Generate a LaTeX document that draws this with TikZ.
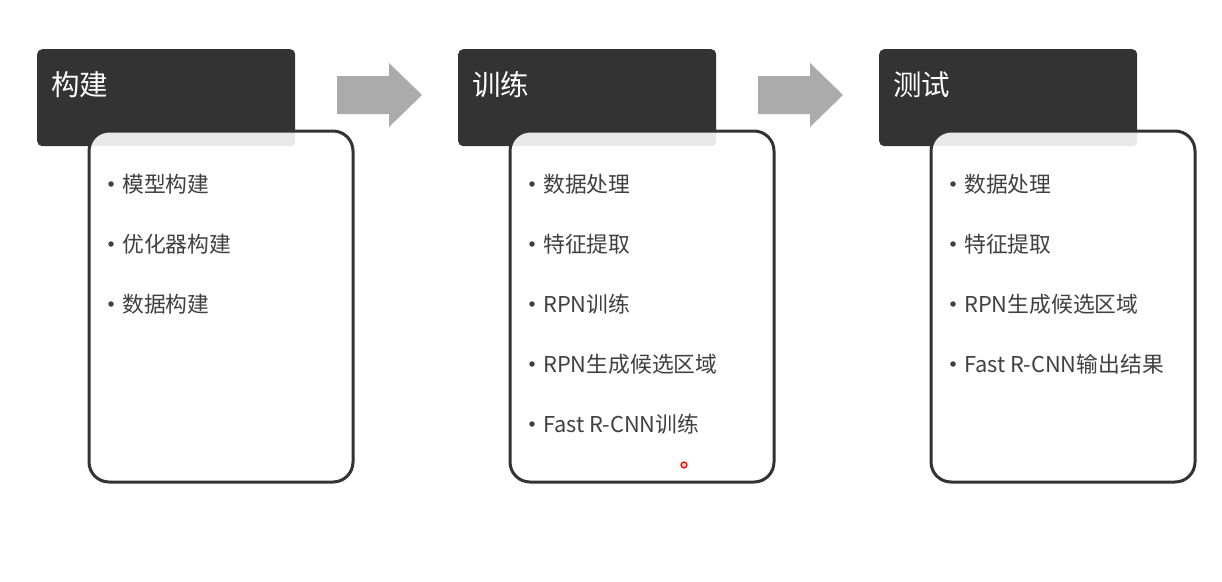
\documentclass[tikz,border=0pt]{standalone}
\usepackage{fontspec}
\newfontfamily\cjk{Noto Sans CJK SC}
\definecolor{hdr}{HTML}{333333}
\definecolor{arr}{HTML}{ABABAB}
\definecolor{txt}{HTML}{404040}
\begin{document}
\begin{tikzpicture}[x=1pt,y=-1pt,
  header/.style={fill=hdr, rounded corners=5pt, minimum width=258pt, minimum height=97pt, inner sep=0pt, anchor=north west},
  htext/.style={text=white, font=\cjk\fontsize{28.5}{30}\selectfont, inner sep=0pt, anchor=west},
  card/.style={draw=hdr, line width=3pt, fill=white, fill opacity=0.89, rounded corners=20pt, minimum width=264pt, minimum height=351pt, inner sep=0pt, anchor=north west},
  item/.style={text=txt, font=\cjk\fontsize{21.8}{24}\selectfont, inner sep=0pt, anchor=west},
  bullet/.style={circle, fill=txt, inner sep=0pt, minimum size=5.5pt},
  blockarrow/.style={fill=arr}
]
\useasboundingbox (0,0) rectangle (1222,581);
\fill[white] (0,0) rectangle (1222,581);

% column 1
\node[header] (h1) at (37,49) {};
\node[htext] (t1) at (51,85) {构建};
\node[card] (c1) at (87.5,129.5) {};
\node[bullet] (b11) at (111,184) {};
\node[item] (i11) at (122,184) {模型构建};
\node[bullet] (b12) at (111,244) {};
\node[item] (i12) at (122,244) {优化器构建};
\node[bullet] (b13) at (111,304) {};
\node[item] (i13) at (122,304) {数据构建};

% arrow 1
\fill[blockarrow] (337,76) -- (389,76) -- (389,63) -- (422,95) -- (389,127) -- (389,114) -- (337,114) -- cycle;

% column 2
\node[header] (h2) at (458,49) {};
\node[htext] (t2) at (472,85) {训练};
\node[card] (c2) at (508.5,129.5) {};
\node[bullet] (b21) at (532,184) {};
\node[item] (i21) at (543,184) {数据处理};
\node[bullet] (b22) at (532,244) {};
\node[item] (i22) at (543,244) {特征提取};
\node[bullet] (b23) at (532,304) {};
\node[item] (i23) at (543,304) {RPN训练};
\node[bullet] (b24) at (532,364) {};
\node[item] (i24) at (543,364) {RPN生成候选区域};
\node[bullet] (b25) at (532,424) {};
\node[item] (i25) at (543,424) {Fast R-CNN训练};
\node[circle, draw=red, line width=1.2pt, fill=red!25, inner sep=0pt, minimum size=6pt] (dot) at (684,465) {};

% arrow 2
\fill[blockarrow] (758,76) -- (810,76) -- (810,63) -- (843,95) -- (810,127) -- (810,114) -- (758,114) -- cycle;

% column 3
\node[header] (h3) at (879,49) {};
\node[htext] (t3) at (893,85) {测试};
\node[card] (c3) at (929.5,129.5) {};
\node[bullet] (b31) at (953,184) {};
\node[item] (i31) at (964,184) {数据处理};
\node[bullet] (b32) at (953,244) {};
\node[item] (i32) at (964,244) {特征提取};
\node[bullet] (b33) at (953,304) {};
\node[item] (i33) at (964,304) {RPN生成候选区域};
\node[bullet] (b34) at (953,364) {};
\node[item] (i34) at (964,364) {Fast R-CNN输出结果};
\end{tikzpicture}
\end{document}
